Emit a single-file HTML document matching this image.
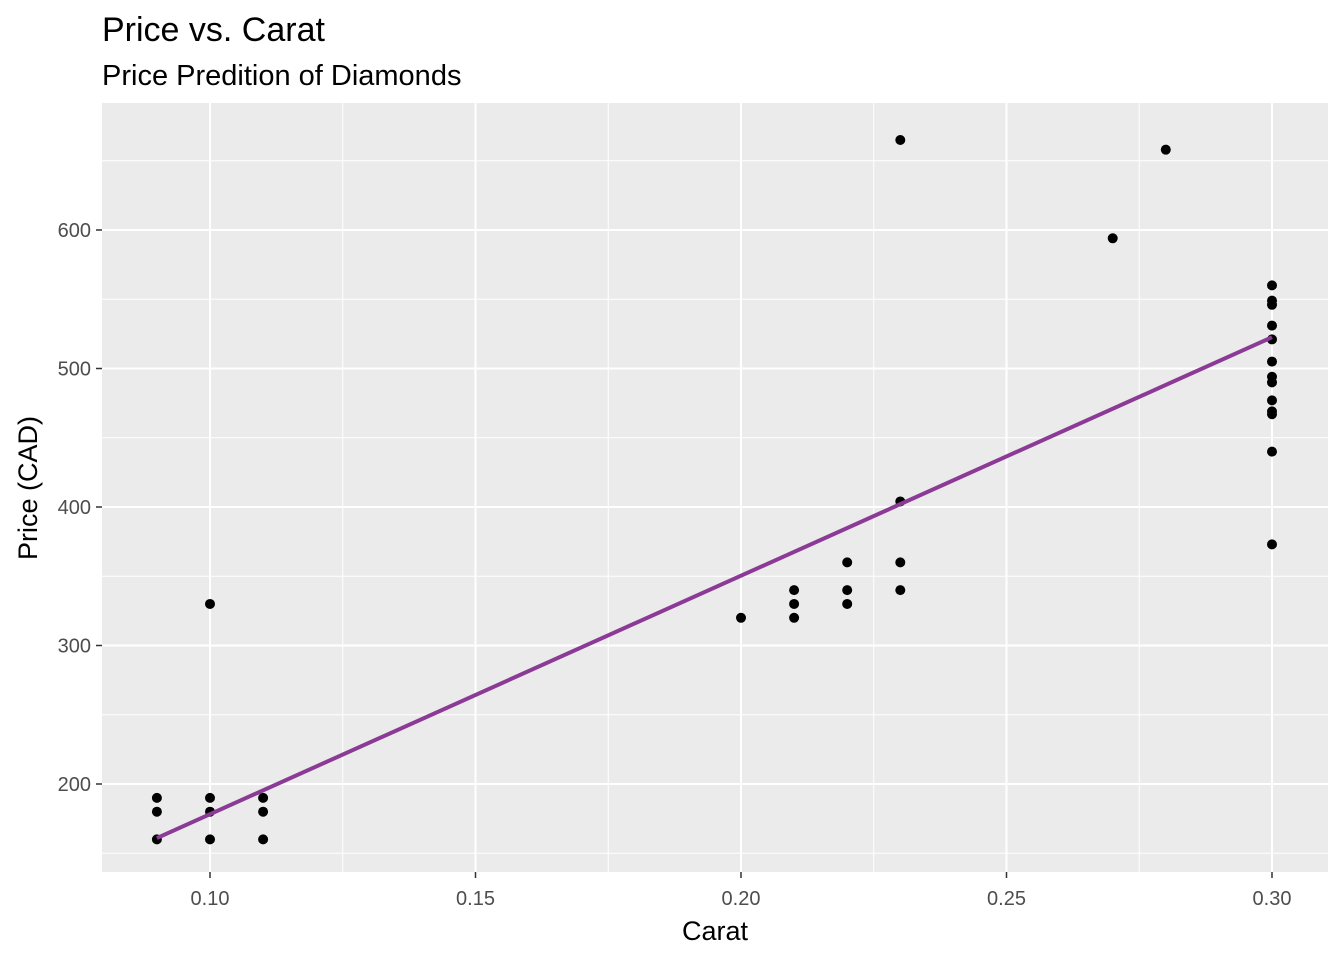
<!DOCTYPE html>
<html><head><meta charset="utf-8"><style>
body{margin:0;background:#fff;font-family:"Liberation Sans",Arial,sans-serif}
svg text{font-family:"Liberation Sans",Arial,sans-serif}
</style></head><body>
<svg id="chart" width="1344" height="960" xmlns="http://www.w3.org/2000/svg">
<text x="102" y="41" font-size="34" fill="#000">Price vs. Carat</text>
<text x="102" y="85" font-size="29" fill="#000">Price Predition of Diamonds</text>
<rect x="102" y="103" width="1226" height="769" fill="#ebebeb"/>
<g id="grid"></g>
<g id="marks"></g>
<g id="axes"></g>
<text x="715" y="940" font-size="27" text-anchor="middle">Carat</text>
<text transform="translate(37,488) rotate(-90)" font-size="27" text-anchor="middle">Price (CAD)</text>
</svg>
<script>
const carats=[0.09,0.09,0.09,0.10,0.10,0.10,0.10,0.11,0.11,0.11,0.20,0.21,0.21,0.21,0.22,0.22,0.22,0.23,0.23,0.23,0.23,0.27,0.28,
0.30,0.30,0.30,0.30,0.30,0.30,0.30,0.30,0.30,0.30,0.30,0.30,0.30];
const prices=[160,180,190,160,180,190,330,160,180,190,320,320,330,340,330,340,360,340,360,404,665,594,658,
560,549,546,531,521,505,494,490,477,469,467,440,373];
const xTicks=[0.10,0.15,0.20,0.25,0.30];
const xTickLabels=["0.10","0.15","0.20","0.25","0.30"];
const xMinor=[0.125,0.175,0.225,0.275];
const yTicks=[200,300,400,500,600];
const yTickLabels=["200","300","400","500","600"];
const yMinor=[150,250,350,450,550,650];
const fitIntercept=6;
const fitSlope=1722;

const L=102,R=1328,T=103,B=872;
const x=c=>210+(c-0.1)*5310;
const y=v=>784-(v-200)*1.385;
const NS="http://www.w3.org/2000/svg";
function mk(tag,attrs,parent){const e=document.createElementNS(NS,tag);for(const k in attrs)e.setAttribute(k,attrs[k]);parent.appendChild(e);return e;}
const grid=document.getElementById('grid'),marks=document.getElementById('marks'),axes=document.getElementById('axes');
xMinor.forEach(c=>{const e=mk('line',{x1:x(c),x2:x(c),y1:T,y2:B,stroke:'#fff','stroke-width':1},grid);

});
yMinor.forEach(v=>{const e=mk('line',{x1:L,x2:R,y1:y(v),y2:y(v),stroke:'#fff','stroke-width':1},grid);

});
xTicks.forEach((c,i)=>{const e=mk('line',{x1:x(c),x2:x(c),y1:T,y2:B,stroke:'#fff','stroke-width':2},grid);


const t=mk('line',{x1:x(c),x2:x(c),y1:B,y2:B+6,stroke:'#333','stroke-width':1.5},axes);


const l=mk('text',{x:x(c),y:905,'font-size':20,'text-anchor':'middle',fill:'#4d4d4d'},axes);l.textContent=xTickLabels[i];

});
yTicks.forEach((v,i)=>{const e=mk('line',{x1:L,x2:R,y1:y(v),y2:y(v),stroke:'#fff','stroke-width':2},grid);


const t=mk('line',{x1:L-6,x2:L,y1:y(v),y2:y(v),stroke:'#333','stroke-width':1.5},axes);


const l=mk('text',{x:L-11,y:y(v)+7,'font-size':20,'text-anchor':'end',fill:'#4d4d4d'},axes);l.textContent=yTickLabels[i];

});
carats.forEach((c,i)=>{const e=mk('circle',{cx:x(c),cy:y(prices[i]),r:5,fill:'#000'},marks);

});
const cmin=Math.min(...carats),cmax=Math.max(...carats);
const fl=mk('line',{x1:x(cmin),y1:y(fitIntercept+fitSlope*cmin),x2:x(cmax),y2:y(fitIntercept+fitSlope*cmax),stroke:'#8b3a96','stroke-width':4},marks);


</script>
</body></html>
